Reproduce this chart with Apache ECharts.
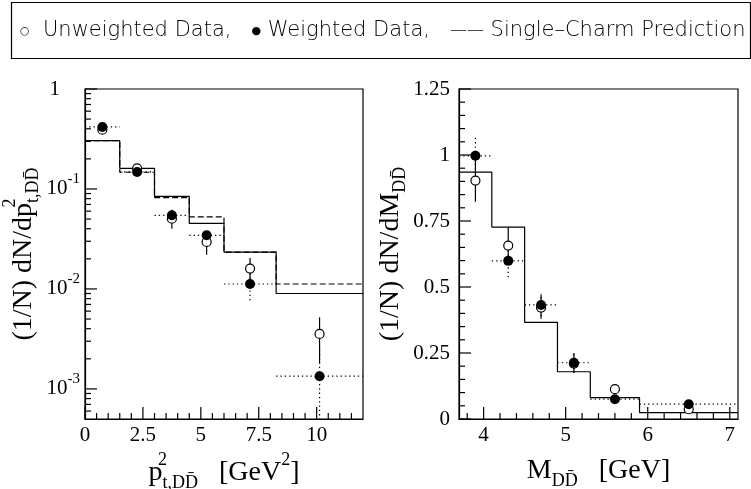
<!DOCTYPE html>
<html>
<head>
<meta charset="utf-8">
<script src="https://cdn.jsdelivr.net/npm/echarts@6/dist/echarts.min.js"></script>
<style>
html, body { margin: 0; padding: 0; background: #fff; }
#chart { width: 751px; height: 489px; }
</style>
</head>
<body>
<div id="chart"></div>
<script>
// ---- p_t^2 distribution (log scale) ----
const ptEdges = [0, 1.5, 3, 4.5, 6, 8.25, 12];
const ptCenters = [0.75, 2.25, 3.75, 5.25, 7.125, 10.125];
const ptPredSolid = [0.304, 0.161, 0.0844, 0.0453, 0.0234, 0.0090];
const ptPredDashed = [0.304, 0.147, 0.082, 0.0525, 0.0234, 0.0112];
const ptUnw = [0.392, 0.161, 0.0505, 0.0295, 0.016, 0.00355];
const ptUnwLo = [0.380, 0.155, 0.040, 0.022, 0.0118, 0.0018];
const ptUnwHi = [0.405, 0.167, 0.062, 0.036, 0.0204, 0.0052];
const ptWgt = [0.417, 0.148, 0.0545, 0.0344, 0.0112, 0.00134];
const ptWgtLo = [0.400, 0.142, 0.047, 0.030, 0.0077, 0.0003];
const ptWgtHi = [0.435, 0.155, 0.062, 0.039, 0.0145, 0.0026];
const ptXTicks = [0, 2.5, 5, 7.5, 10];
const ptYTicks = [0.001, 0.01, 0.1, 1];
const ptXRange = [0, 12];
const ptYRange = [0.0005, 1];

// ---- D Dbar invariant mass distribution ----
const mEdges = [3.7, 4.1, 4.5, 4.9, 5.3, 5.9, 7.1];
const mCenters = [3.9, 4.3, 4.7, 5.1, 5.6, 6.5];
const mPred = [0.935, 0.727, 0.366, 0.179, 0.081, 0.024];
const mUnw = [0.903, 0.657, 0.422, 0.210, 0.113, 0.037];
const mUnwLo = [0.823, 0.600, 0.380, 0.175, 0.100, 0.030];
const mUnwHi = [0.985, 0.727, 0.470, 0.250, 0.125, 0.045];
const mWgt = [0.997, 0.599, 0.432, 0.213, 0.075, 0.056];
const mWgtLo = [0.930, 0.537, 0.390, 0.175, 0.062, 0.047];
const mWgtHi = [1.070, 0.660, 0.474, 0.255, 0.088, 0.065];
const mXTicks = [4, 5, 6, 7];
const mYTicks = [0, 0.25, 0.5, 0.75, 1, 1.25];
const mXRange = [3.7, 7.1];
const mYRange = [0, 1.25];

// minor tick positions
const ptXMinor = [];
for (let i = 1; i < 24; i++) if (i % 5 !== 0) ptXMinor.push(i * 0.5);
const mXMinor = [];
for (let i = 19; i <= 35; i++) if (i % 5 !== 0) mXMinor.push(+(i * 0.2).toFixed(1));
const mYMinor = [];
for (let i = 1; i < 25; i++) if (i % 5 !== 0) mYMinor.push(+(i * 0.05).toFixed(2));
const ptYMinor = [];
for (let d = -4; d <= -1; d++) {
  for (let k = 2; k <= 9; k++) {
    const v = +(k * Math.pow(10, d)).toPrecision(3);
    if (v > 0.0005 && v < 1) ptYMinor.push(v);
  }
}

const SERIF = 'Liberation Serif';
const BLACK = '#000';
const MAJOR = 12, MINOR = 6;

function histLine(edges, vals) {
  return edges.map((e, i) => [e, vals[Math.min(i, vals.length - 1)]]);
}
function errData(centers, y, lo, hi, edges) {
  return centers.map((c, i) => [c, y[i], lo[i], hi[i], edges[i], edges[i + 1]]);
}
function errRender(dotted, withX) {
  return function (params, api) {
    const x = api.value(0);
    const style = { stroke: BLACK, lineWidth: 1.2, fill: null, lineDash: dotted ? [1.3, 3] : null };
    const a = api.coord([x, api.value(2)]);
    const b = api.coord([x, api.value(3)]);
    const children = [{ type: 'line', shape: { x1: a[0], y1: a[1], x2: b[0], y2: b[1] }, style: style }];
    if (withX) {
      const y = api.value(1);
      const c = api.coord([api.value(4), y]);
      const d = api.coord([api.value(5), y]);
      children.push({ type: 'line', shape: { x1: c[0], y1: c[1], x2: d[0], y2: d[1] }, style: style });
    }
    return { type: 'group', children: children };
  };
}

// inward tick marks along the bottom (x) and left (y) edges of a frame:
// each item is [x, y, length, direction] with direction 0 = vertical, 1 = horizontal
function tickData(xMajor, xMinor, yMajor, yMinor, xRange, yRange) {
  const d = [];
  xMajor.forEach(v => d.push([v, yRange[0], MAJOR, 0]));
  xMinor.forEach(v => d.push([v, yRange[0], MINOR, 0]));
  yMajor.forEach(v => d.push([xRange[0], v, MAJOR, 1]));
  yMinor.forEach(v => d.push([xRange[0], v, MINOR, 1]));
  return d;
}
function tickShape(p, len, dir) {
  return dir < 0.5
    ? { x1: p[0], y1: p[1], x2: p[0], y2: p[1] - len }
    : { x1: p[0], y1: p[1], x2: p[0] + len, y2: p[1] };
}

const nameRich = {
  b: { fontFamily: SERIF, fontSize: 28, color: BLACK },
  sup: { fontFamily: SERIF, fontSize: 18, color: BLACK, padding: [0, 0, 26, 0], width: 0 },
  sup2: { fontFamily: SERIF, fontSize: 18, color: BLACK, padding: [0, 0, 26, 0] },
  sub: { fontFamily: SERIF, fontSize: 18, color: BLACK, padding: [20, 0, 0, 0] }
};
const DDbar = 'DD\u0304';

const tickLabel = { fontFamily: SERIF, fontSize: 21, color: BLACK };

function frame(left, width) {
  return { left: left, top: 89, width: width, height: 330, containLabel: false, outerBoundsMode: 'none',
           show: true, borderColor: BLACK, borderWidth: 1.2, backgroundColor: 'rgba(0,0,0,0)' };
}
function axisLine() {
  return { show: true, lineStyle: { color: BLACK, width: 1.2 } };
}

const legendGraphics = [
  {
    type: 'rect', shape: { x: 11.5, y: 2.5, width: 739, height: 56 },
    style: { fill: 'none', stroke: BLACK, lineWidth: 1.2 }, z: 10
  },
  {
    type: 'text', x: 20, y: 31, z: 10,
    style: {
      text: '{m|\u25CB}  Unweighted Data,   {m|\u25CF} Weighted Data,   {l|\u2014\u2014} Single\u2013Charm Prediction',
      fontFamily: 'DejaVu Sans', fontWeight: 200, fontSize: 21, fill: BLACK,
      verticalAlign: 'middle', align: 'left',
      rich: {
        m: { fontFamily: 'DejaVu Sans', fontSize: 11, fill: BLACK },
        l: { fontFamily: 'DejaVu Sans', fontWeight: 200, fontSize: 17, fill: BLACK }
      }
    }
  }
];

const option = {
  animation: false,
  backgroundColor: '#fff',
  grid: [frame(85, 278), frame(459, 279)],
  xAxis: [
    {
      gridIndex: 0, type: 'value', min: ptXRange[0], max: ptXRange[1],
      axisLine: axisLine(), axisTick: { show: false },
      axisLabel: Object.assign({ show: true, customValues: ptXTicks, margin: 6, formatter: v => String(v) }, tickLabel),
      splitLine: { show: false },
      name: '{b|p}{sup|2}{sub|t,' + DDbar + '}{b|   [GeV}{sup2|2}{b|]}',
      nameLocation: 'middle', nameGap: 30,
      nameTextStyle: { rich: nameRich }
    },
    {
      gridIndex: 1, type: 'value', min: mXRange[0], max: mXRange[1],
      axisLine: axisLine(), axisTick: { show: false },
      axisLabel: Object.assign({ show: true, customValues: mXTicks, margin: 6, formatter: v => String(v) }, tickLabel),
      splitLine: { show: false },
      name: '{b|M}{sub|' + DDbar + '}{b|   [GeV]}',
      nameLocation: 'middle', nameGap: 33,
      nameTextStyle: { rich: nameRich }
    }
  ],
  yAxis: [
    {
      gridIndex: 0, type: 'log', logBase: 10, min: ptYRange[0], max: ptYRange[1],
      axisLine: axisLine(), axisTick: { show: false }, minorTick: { show: false },
      axisLabel: {
        show: true, customValues: ptYTicks, margin: 5,
        formatter: function (v) {
          const e = Math.round(Math.log10(v));
          return e === 0 ? '{one|1}' : '{b|10}{s|' + e + '}';
        },
        rich: {
          one: { fontFamily: SERIF, fontSize: 21, color: BLACK, padding: [0, 20, 0, 0] },
          b: { fontFamily: SERIF, fontSize: 21, color: BLACK },
          s: { fontFamily: SERIF, fontSize: 15, color: BLACK, padding: [0, 0, 20, 0] }
        }
      },
      splitLine: { show: false },
      name: '{b|(1/N) dN/dp}{sup|2}{sub|t,' + DDbar + '}',
      nameLocation: 'middle', nameGap: 34,
      nameTextStyle: { rich: nameRich }
    },
    {
      gridIndex: 1, type: 'value', min: mYRange[0], max: mYRange[1],
      axisLine: axisLine(), axisTick: { show: false }, minorTick: { show: false },
      axisLabel: Object.assign({ show: true, customValues: mYTicks, margin: 9, formatter: v => String(v) }, tickLabel),
      splitLine: { show: false },
      name: '{b|(1/N) dN/dM}{sub|' + DDbar + '}',
      nameLocation: 'middle', nameGap: 47,
      nameTextStyle: { rich: nameRich }
    }
  ],
  graphic: legendGraphics,
  series: [
    // p_t^2 panel
    { type: 'line', xAxisIndex: 0, yAxisIndex: 0, step: 'end', symbol: 'none', data: histLine(ptEdges, ptPredSolid),
      lineStyle: { color: BLACK, width: 1.2 }, z: 2 },
    { type: 'line', xAxisIndex: 0, yAxisIndex: 0, step: 'end', symbol: 'none', data: histLine(ptEdges, ptPredDashed),
      lineStyle: { color: BLACK, width: 1.2, type: [6, 3] }, z: 2 },
    { type: 'custom', xAxisIndex: 0, yAxisIndex: 0, clip: true, renderItem: errRender(false, false),
      data: errData(ptCenters, ptUnw, ptUnwLo, ptUnwHi, ptEdges), z: 3 },
    { type: 'custom', xAxisIndex: 0, yAxisIndex: 0, clip: true, renderItem: errRender(true, true),
      data: errData(ptCenters, ptWgt, ptWgtLo, ptWgtHi, ptEdges), z: 3 },
    { type: 'scatter', xAxisIndex: 0, yAxisIndex: 0, symbol: 'circle', symbolSize: 9,
      data: ptCenters.map((c, i) => [c, ptUnw[i]]),
      itemStyle: { color: '#fff', borderColor: BLACK, borderWidth: 1.2, opacity: 1 }, z: 4 },
    { type: 'scatter', xAxisIndex: 0, yAxisIndex: 0, symbol: 'circle', symbolSize: 10,
      data: ptCenters.map((c, i) => [c, ptWgt[i]]),
      itemStyle: { color: BLACK, opacity: 1 }, z: 5 },

    // mass panel
    { type: 'line', xAxisIndex: 1, yAxisIndex: 1, step: 'end', symbol: 'none', data: histLine(mEdges, mPred),
      lineStyle: { color: BLACK, width: 1.2 }, z: 2 },
    { type: 'custom', xAxisIndex: 1, yAxisIndex: 1, clip: true, renderItem: errRender(false, false),
      data: errData(mCenters, mUnw, mUnwLo, mUnwHi, mEdges), z: 3 },
    { type: 'custom', xAxisIndex: 1, yAxisIndex: 1, clip: true, renderItem: errRender(true, true),
      data: errData(mCenters, mWgt, mWgtLo, mWgtHi, mEdges), z: 3 },
    { type: 'scatter', xAxisIndex: 1, yAxisIndex: 1, symbol: 'circle', symbolSize: 9,
      data: mCenters.map((c, i) => [c, mUnw[i]]),
      itemStyle: { color: '#fff', borderColor: BLACK, borderWidth: 1.2, opacity: 1 }, z: 4 },
    { type: 'scatter', xAxisIndex: 1, yAxisIndex: 1, symbol: 'circle', symbolSize: 10,
      data: mCenters.map((c, i) => [c, mWgt[i]]),
      itemStyle: { color: BLACK, opacity: 1 }, z: 5 }
  ]
};

const chart = echarts.init(document.getElementById('chart'), null, { renderer: 'canvas' });
chart.setOption(option);

// tick marks placed through each panel's own axes once the layout exists
const panels = [
  { idx: 0, ticks: tickData(ptXTicks, ptXMinor, ptYTicks, ptYMinor, ptXRange, ptYRange) },
  { idx: 1, ticks: tickData(mXTicks, mXMinor, mYTicks, mYMinor, mXRange, mYRange) }
];
const tickGraphics = [];
panels.forEach(function (panel) {
  panel.ticks.forEach(function (t) {
    const p = chart.convertToPixel({ xAxisIndex: panel.idx, yAxisIndex: panel.idx }, [t[0], t[1]]);
    if (!p) return;
    tickGraphics.push({
      type: 'line', silent: true, z: 100,
      shape: tickShape(p, t[2], t[3]),
      style: { stroke: BLACK, lineWidth: 1.2 }
    });
  });
});
chart.setOption({ graphic: legendGraphics.concat(tickGraphics) });
</script>
</body>
</html>
